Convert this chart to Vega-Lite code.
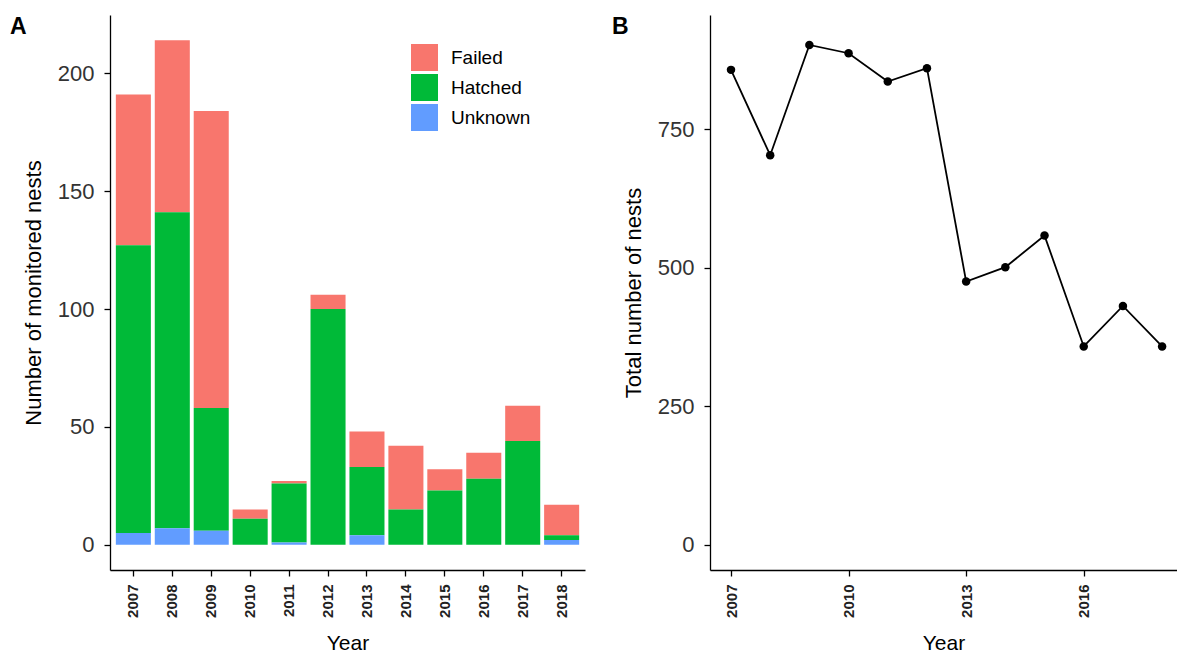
{
  "$schema": "https://vega.github.io/schema/vega-lite/v6.json",
  "background": "white",
  "padding": {"left": 10, "top": 15, "right": 0, "bottom": 0},
  "spacing": 125,
  "bounds": "flush",
  "config": {
    "font": "Liberation Sans",
    "view": {"stroke": null},
    "axis": {
      "grid": false,
      "domainColor": "black",
      "domainWidth": 1.3,
      "tickColor": "black",
      "tickWidth": 1.3,
      "tickSize": 6,
      "labelColor": "#333333",
      "labelFontSize": 22,
      "labelPadding": 10,
      "titleFontSize": 22,
      "titleFontWeight": "normal",
      "titleColor": "black",
      "titlePadding": 12
    },
    "axisX": {"labelFontSize": 15, "labelFontWeight": "bold", "labelColor": "#222222", "labelAngle": 270, "labelPadding": 8, "titlePadding": 15, "titleFontSize": 21},
    "title": {"fontSize": 23, "fontWeight": "bold", "anchor": "start", "color": "black"}
  },
  "hconcat": [
    {
      "width": 475,
      "height": 555,
      "title": {"text": "A", "frame": "group", "dx": -100, "dy": 42, "baseline": "alphabetic", "offset": 0},
      "data": {"values": [
        {"year": "2007", "status": "Failed", "n": 64},
        {"year": "2007", "status": "Hatched", "n": 122},
        {"year": "2007", "status": "Unknown", "n": 5},
        {"year": "2008", "status": "Failed", "n": 73},
        {"year": "2008", "status": "Hatched", "n": 134},
        {"year": "2008", "status": "Unknown", "n": 7},
        {"year": "2009", "status": "Failed", "n": 126},
        {"year": "2009", "status": "Hatched", "n": 52},
        {"year": "2009", "status": "Unknown", "n": 6},
        {"year": "2010", "status": "Failed", "n": 4},
        {"year": "2010", "status": "Hatched", "n": 11},
        {"year": "2010", "status": "Unknown", "n": 0},
        {"year": "2011", "status": "Failed", "n": 1},
        {"year": "2011", "status": "Hatched", "n": 25},
        {"year": "2011", "status": "Unknown", "n": 1},
        {"year": "2012", "status": "Failed", "n": 6},
        {"year": "2012", "status": "Hatched", "n": 100},
        {"year": "2012", "status": "Unknown", "n": 0},
        {"year": "2013", "status": "Failed", "n": 15},
        {"year": "2013", "status": "Hatched", "n": 29},
        {"year": "2013", "status": "Unknown", "n": 4},
        {"year": "2014", "status": "Failed", "n": 27},
        {"year": "2014", "status": "Hatched", "n": 15},
        {"year": "2014", "status": "Unknown", "n": 0},
        {"year": "2015", "status": "Failed", "n": 9},
        {"year": "2015", "status": "Hatched", "n": 23},
        {"year": "2015", "status": "Unknown", "n": 0},
        {"year": "2016", "status": "Failed", "n": 11},
        {"year": "2016", "status": "Hatched", "n": 28},
        {"year": "2016", "status": "Unknown", "n": 0},
        {"year": "2017", "status": "Failed", "n": 15},
        {"year": "2017", "status": "Hatched", "n": 44},
        {"year": "2017", "status": "Unknown", "n": 0},
        {"year": "2018", "status": "Failed", "n": 13},
        {"year": "2018", "status": "Hatched", "n": 2},
        {"year": "2018", "status": "Unknown", "n": 2}
      ]},
      "mark": {"type": "bar"},
      "encoding": {
        "x": {"field": "year", "type": "ordinal", "title": "Year",
              "scale": {"paddingInner": 0.1, "paddingOuter": 0.15}},
        "y": {"field": "n", "type": "quantitative", "title": "Number of monitored nests",
              "stack": "zero",
              "scale": {"domain": [-10.7, 224.7], "nice": false, "zero": false},
              "axis": {"values": [0, 50, 100, 150, 200]}},
        "color": {"field": "status", "type": "nominal",
                  "scale": {"domain": ["Failed", "Hatched", "Unknown"], "range": ["#F8766D", "#00BA38", "#619CFF"]},
                  "legend": {"title": null, "orient": "none", "legendX": 301, "legendY": 29,
                             "symbolType": "square", "symbolSize": 729, "symbolStrokeWidth": 0,
                             "symbolOpacity": 1, "labelFontSize": 19, "labelColor": "black",
                             "labelOffset": 13, "rowPadding": 3, "padding": 0}},
        "order": {"field": "status", "sort": "descending"}
      }
    },
    {
      "width": 467,
      "height": 555,
      "title": {"text": "B", "frame": "group", "dx": -98, "dy": 42, "baseline": "alphabetic", "offset": 0},
      "data": {"values": [
        {"year": 2007, "total": 857},
        {"year": 2008, "total": 703},
        {"year": 2009, "total": 902},
        {"year": 2010, "total": 887},
        {"year": 2011, "total": 836},
        {"year": 2012, "total": 860},
        {"year": 2013, "total": 475},
        {"year": 2014, "total": 501},
        {"year": 2015, "total": 558},
        {"year": 2016, "total": 358},
        {"year": 2017, "total": 431},
        {"year": 2018, "total": 358}
      ]},
      "encoding": {
        "x": {"field": "year", "type": "quantitative", "title": "Year",
              "scale": {"domain": [2006.464, 2018.38], "nice": false, "zero": false},
              "axis": {"values": [2007, 2010, 2013, 2016], "format": "d"}},
        "y": {"field": "total", "type": "quantitative", "title": "Total number of nests",
              "scale": {"domain": [-45.4, 956], "nice": false, "zero": false},
              "axis": {"values": [0, 250, 500, 750]}}
      },
      "layer": [
        {"mark": {"type": "line", "color": "black", "strokeWidth": 1.8}},
        {"mark": {"type": "point", "filled": true, "color": "black", "opacity": 1, "size": 72}}
      ]
    }
  ]
}
